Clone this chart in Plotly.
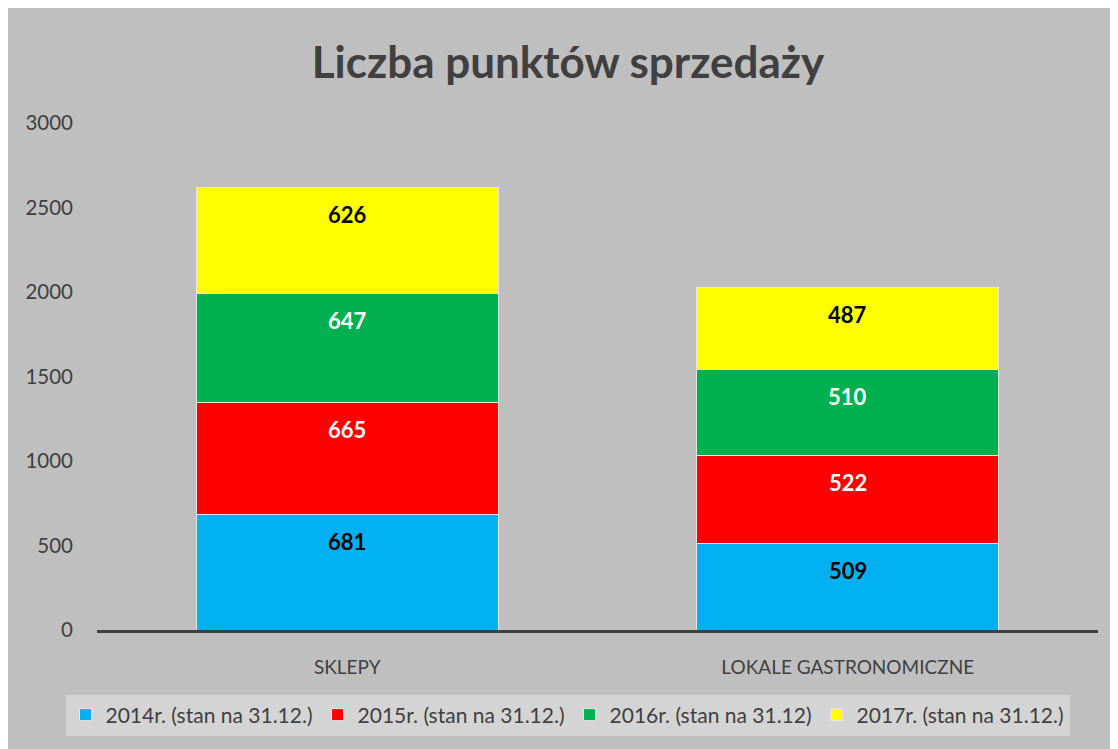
import plotly.graph_objects as go

categories = ["SKLEPY", "LOKALE GASTRONOMICZNE"]
series_names = [
    "2014r. (stan na 31.12.)",
    "2015r. (stan na 31.12.)",
    "2016r. (stan na 31.12)",
    "2017r. (stan na 31.12.)",
]
values_2014 = [681, 509]
values_2015 = [665, 522]
values_2016 = [647, 510]
values_2017 = [626, 487]
series_values = [values_2014, values_2015, values_2016, values_2017]
colors = ["#00B0F0", "#FF0000", "#00B050", "#FFFF00"]
label_colors = ["#000000", "#FFFFFF", "#FFFFFF", "#000000"]
y_ticks = [0, 500, 1000, 1500, 2000, 2500, 3000]

FONT = "Lato, 'Open Sans', sans-serif"
GREY = "#BFBFBF"
TEXT = "#404040"

fig = go.Figure()
for name, vals, col in zip(series_names, series_values, colors):
    fig.add_trace(go.Bar(
        x=categories, y=vals, name=name,
        marker=dict(color=col, line=dict(color="#E6E6E6", width=1)),
        hoverinfo="x+y+name",
    ))

annotations = []
cum = [0] * len(categories)
for vals, lc in zip(series_values, label_colors):
    for i, (cat, v) in enumerate(zip(categories, vals)):
        cum[i] += v
        annotations.append(dict(
            x=cat, y=cum[i], xref="x", yref="y", text=f"<b>{v}</b>",
            showarrow=False, yshift=-27,
            font=dict(family=FONT, size=22, color=lc),
        ))

# figure sits at page offset (8, 8) because of the body margin
OX, OY = 8, 8
W, H = 1110, 741
L = 97 - OX
R = W - (1098 - OX)
T = 123 - OY
B = H - (630 - OY)
pw, ph = W - L - R, H - T - B

def px_x(p):
    return (p - OX - L) / pw

def px_y(p):
    return (H - B - (p - OY)) / ph

fig.update_layout(
    width=W, height=H,
    margin=dict(l=L, r=R, t=T, b=B, autoexpand=False),
    paper_bgcolor=GREY, plot_bgcolor=GREY,
    barmode="stack", bargap=0.396,
    title=dict(text="<b>Liczba punktów sprzedaży</b>", xref="container",
               x=(568 - OX) / W, xanchor="center",
               yref="container", y=1 - (63 - OY) / H, yanchor="middle",
               font=dict(family=FONT, size=44, color=TEXT)),
    font=dict(family=FONT, color=TEXT),
    xaxis=dict(showgrid=False, showline=True, linecolor=TEXT, linewidth=3,
               tickfont=dict(size=19, color=TEXT), ticklabelstandoff=18,
               zeroline=False),
    yaxis=dict(range=[0, 3000], tickvals=y_ticks, showgrid=False, zeroline=False,
               showline=False, tickfont=dict(size=20.5, color=TEXT),
               ticklabelstandoff=23),
    legend=dict(orientation="h", x=px_x(567.5), xanchor="center",
                y=px_y(715), yanchor="middle", bgcolor="#D4D4D4",
                font=dict(family=FONT, size=21, color=TEXT),
                traceorder="normal", itemwidth=30, tracegroupgap=0),
    annotations=annotations,
)

fig.write_html("out.html")
